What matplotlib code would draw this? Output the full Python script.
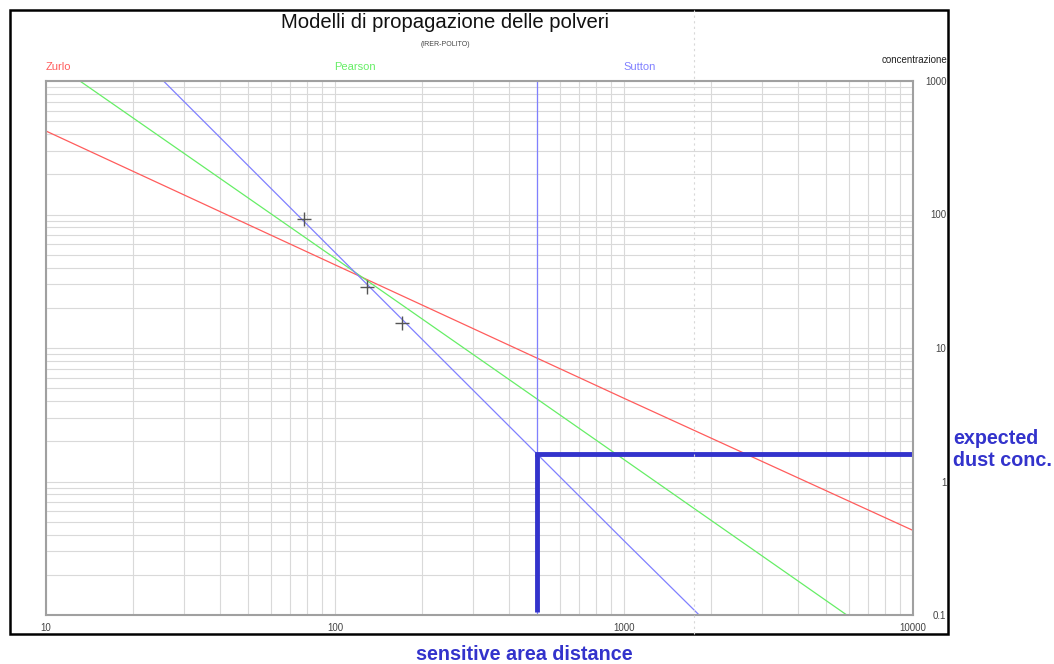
import matplotlib
matplotlib.use("Agg")
import matplotlib.pyplot as plt
from matplotlib.lines import Line2D
from matplotlib.patches import Rectangle
from matplotlib.ticker import LogLocator, NullFormatter

plt.rcParams['font.family'] = ['Liberation Sans', 'DejaVu Sans']

# --- Data (distance [m] vs concentration) ---
distance_zurlo = [10, 100, 1000, 10000]
conc_zurlo = [422, 42, 4.2, 0.43]

distance_pearson = [13.1, 100, 1000, 5900]
conc_pearson = [1000, 47, 1.46, 0.1]

distance_sutton = [25.5, 100, 1000, 1820]
conc_sutton = [1000, 52, 0.36, 0.1]

# measured points (crosses)
distance_measured = [78, 129, 170]
conc_measured = [92.5, 28.7, 15.4]

sensitive_distance = 500
expected_conc = 1.6

x_ticks = [10, 100, 1000, 10000]
x_tick_labels = ["10", "100", "1000", "10000"]
y_ticks = [0.1, 1, 10, 100, 1000]
y_tick_labels = ["0.1", "1", "10", "100", "1000"]

RED = '#ff5c5c'
GREEN = '#66ee66'
BLUE = '#8080ff'
DARK_BLUE = '#3333cc'
NARROW = ['Liberation Sans Narrow', 'Liberation Sans', 'DejaVu Sans']

fig = plt.figure(figsize=(10.54, 6.64), dpi=100)
ax = fig.add_axes([46 / 1054, 1 - 615 / 664, 867 / 1054, 534 / 664])

ax.set_xscale('log')
ax.set_yscale('log')
ax.set_xlim(10, 10000)
ax.set_ylim(0.1, 1000)

# grid on every decade subdivision
ax.xaxis.set_minor_locator(LogLocator(base=10, subs=range(2, 10)))
ax.yaxis.set_minor_locator(LogLocator(base=10, subs=range(2, 10)))
ax.xaxis.set_minor_formatter(NullFormatter())
ax.yaxis.set_minor_formatter(NullFormatter())
ax.grid(True, which='both', color='#d9d9d9', linewidth=0.8)
ax.set_axisbelow(True)

# model curves
ax.plot(distance_zurlo, conc_zurlo, color=RED, linewidth=0.9)
ax.plot(distance_pearson, conc_pearson, color=GREEN, linewidth=0.9)
ax.plot(distance_sutton, conc_sutton, color=BLUE, linewidth=0.9)
ax.axvline(sensitive_distance, color=BLUE, linewidth=0.9)

# measured points
ax.plot(distance_measured, conc_measured, linestyle='none', marker='+',
        markersize=10, markeredgewidth=1.0, color='#555555')

# expected concentration at sensitive area
ax.plot([sensitive_distance, 9780], [expected_conc, expected_conc],
        color=DARK_BLUE, linewidth=3.5, solid_capstyle='projecting', clip_on=False)
ax.plot([sensitive_distance, sensitive_distance], [expected_conc, 0.105],
        color=DARK_BLUE, linewidth=3.5, solid_capstyle='butt', clip_on=False)

# axes styling
for sp in ax.spines.values():
    sp.set_color('#a0a0a0')
    sp.set_linewidth(1.5)

ax.yaxis.tick_right()
ax.set_yticks(y_ticks)
ax.set_yticklabels(y_tick_labels)
ax.set_xticks(x_ticks)
ax.set_xticklabels(x_tick_labels)
for lab in ax.get_yticklabels():
    lab.set_horizontalalignment('right')
ax.tick_params(axis='y', which='both', length=0, pad=24, labelsize=7, labelcolor='#444444')
ax.tick_params(axis='x', which='both', length=0, pad=6, labelsize=7, labelcolor='#444444')

# faint dotted cursor line
fig.add_artist(Line2D([694 / 1054, 694 / 1054], [1 - 634 / 664, 1 - 10 / 664],
                      transform=fig.transFigure, color='#d8d8d8', linewidth=0.8,
                      linestyle=(0, (2, 3))))

# outer frame
fig.add_artist(Rectangle((10 / 1054, 1 - 634 / 664), 938 / 1054, 624 / 664,
                         transform=fig.transFigure, fill=False,
                         edgecolor='black', linewidth=1.8))

# titles and labels
fig.text(445 / 1054, 1 - 22 / 664, "Modelli di propagazione delle polveri",
         ha='center', va='center', fontsize=14.6, family=NARROW, color='#111111')
fig.text(445 / 1054, 1 - 45 / 664, "(IRER-POLITO)",
         ha='center', va='center', fontsize=5, family=NARROW, color='#444444')
fig.text(46 / 1054, 1 - 67 / 664, "Zurlo", ha='left', va='center',
         fontsize=8, family=NARROW, color=RED)
fig.text(334 / 1054, 1 - 67 / 664, "Pearson", ha='left', va='center',
         fontsize=8, family=NARROW, color=GREEN)
fig.text(623 / 1054, 1 - 67 / 664, "Sutton", ha='left', va='center',
         fontsize=8, family=NARROW, color=BLUE)
fig.text(947 / 1054, 1 - 60 / 664, "concentrazione", ha='right', va='center',
         fontsize=7, family=NARROW, color='#222222')

fig.text(953 / 1054, 1 - 449 / 664, "expected\ndust conc.", ha='left', va='center',
         fontsize=14.2, fontweight='bold', color=DARK_BLUE, linespacing=1.2)
fig.text(524 / 1054, 1 - 655 / 664, "sensitive area distance", ha='center', va='center',
         fontsize=14.2, fontweight='bold', color=DARK_BLUE)

fig.savefig("out.png", dpi=100)
